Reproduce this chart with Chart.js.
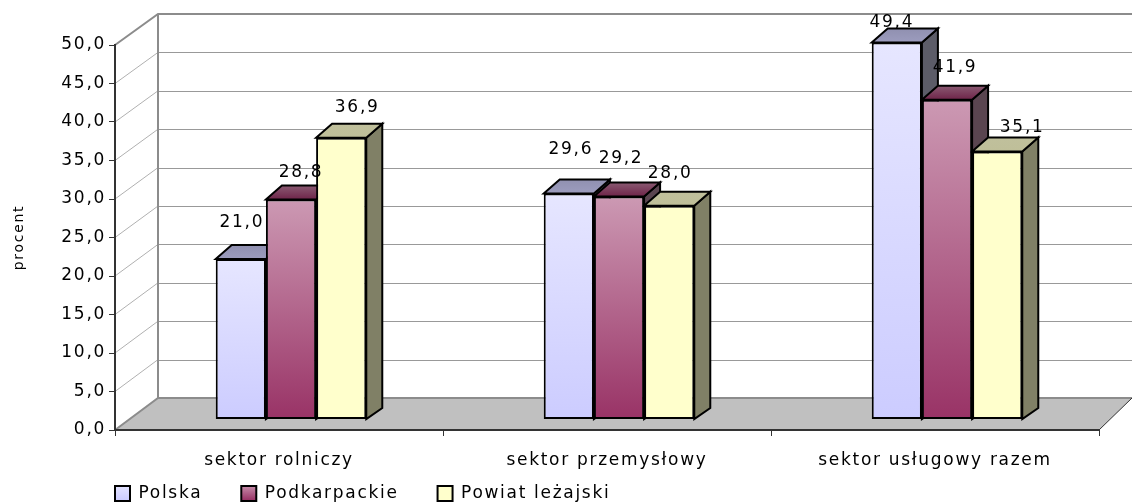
<!DOCTYPE html>
<html><head><meta charset="utf-8">
<style>html,body{margin:0;padding:0;background:#fff}canvas{display:block}</style>
<script src="https://cdn.jsdelivr.net/npm/chart.js@4"></script>
</head><body><canvas id="c" width="1132" height="503"></canvas>
<script>
const categories = ["sektor rolniczy", "sektor przemysłowy", "sektor usługowy razem"];
const seriesNames = ["Polska", "Podkarpackie", "Powiat leżajski"];
const polska = [21.0, 29.6, 49.4];
const podkarpackie = [28.8, 29.2, 41.9];
const powiat = [36.9, 28.0, 35.1];
const yTicksMin = 0, yTicksMax = 50, yStep = 5;

const FONT = '"DejaVu Sans"';
const FSIZE = 17;
const SPACING = '1.7px';
const AREA = {left:115, right:1099, top:45, bottom:430};
const WALL = {dx:43, dy:-32, right:1132};
const BAR_DX = 12, DEPTH = {dx:16, dyBase:-11, dyTop:-14};
// label nudges [dx, dy] from the top centre of each bar front, per series and category
const NUDGE = [[[1,-36],[2,-44],[-5,-20]],[[10,-27],[2,-38],[8,-32]],[[16,-30],[1,-32],[25,-24]]];
const STYLE = [
 {top:'#e6e6ff',bottom:'#ccccff',cap:['#9c9cbe','#9090b0'],side:'#5c5c68'},
 {top:'#cc99b3',bottom:'#993366',cap:['#6e2449','#8a5a72'],side:'#5a4550'},
 {top:'#ffffcc',bottom:'#ffffcc',cap:['#bfbf99','#c0c09c'],side:'#808066'}
];
const comma = v => Number(v).toFixed(1).replace('.',',');
function grad(ctx,y0,y1,s){const g=ctx.createLinearGradient(0,y0,0,y1);g.addColorStop(0,s.top);g.addColorStop(1,s.bottom);return g;}
function barFill(i){return c=>{
  const chart=c.chart,ys=chart.scales.y1; if(!ys||c.dataIndex===undefined) return STYLE[i].bottom;
  const v=c.raw; return grad(chart.ctx,ys.getPixelForValue(v),ys.getPixelForValue(0),STYLE[i]);
};}

const spacing={id:'spacing',beforeUpdate(ch){ch.ctx.letterSpacing=SPACING;},beforeDraw(ch){ch.ctx.letterSpacing=SPACING;}};

const room={id:'room',
beforeDraw(ch){
  const c=ch.ctx,ys=ch.scales.y,{left,right,bottom,top}=ch.chartArea;
  const bx=left+WALL.dx,by=bottom+WALL.dy,tb=top+WALL.dy+1;
  c.save();
  c.fillStyle='#c0c0c0';c.beginPath();c.moveTo(left,bottom);c.lineTo(bx,by);c.lineTo(WALL.right,by);c.lineTo(right,bottom);c.closePath();c.fill();
  ys.ticks.forEach(t=>{
    if(t.value===yTicksMin||t.value===yTicksMax) return;
    const y=ys.getPixelForValue(t.value), yb=y+WALL.dy+(t.value/yTicksMax);
    c.strokeStyle='#b0b0b0';c.lineWidth=1;c.beginPath();c.moveTo(left,y);c.lineTo(bx,yb);c.stroke();
    c.strokeStyle='#999';c.beginPath();c.moveTo(bx,Math.round(yb)+.5);c.lineTo(WALL.right,Math.round(yb)+.5);c.stroke();
  });
  c.strokeStyle='#8c8c8c';c.lineWidth=2;
  c.beginPath();c.moveTo(left,bottom);c.lineTo(bx,by);c.lineTo(WALL.right,by);c.stroke();
  c.beginPath();c.moveTo(left,top);c.lineTo(bx,tb);c.lineTo(WALL.right,tb);c.stroke();
  c.beginPath();c.moveTo(bx,tb);c.lineTo(bx,by);c.stroke();
  c.lineWidth=1;c.strokeStyle='#333';c.beginPath();c.moveTo(right,bottom);c.lineTo(WALL.right,by);c.stroke();
  c.restore();
},
beforeDatasetsDraw(ch){
  const c=ch.ctx;
  c.save();c.translate(BAR_DX,0);
  c.lineWidth=2;c.strokeStyle='#000';c.lineJoin='miter';
  STYLE.forEach((s,i)=>ch.getDatasetMeta(i).data.forEach(b=>{
    const l=b.x-b.width/2,r=b.x+b.width/2,t=b.y,bt=b.base;
    c.fillStyle=s.side;c.beginPath();c.moveTo(r,t);c.lineTo(r+DEPTH.dx,t+DEPTH.dyTop);c.lineTo(r+DEPTH.dx,bt+DEPTH.dyBase);c.lineTo(r,bt);c.closePath();c.fill();c.stroke();
    const g=c.createLinearGradient(0,t,0,t+DEPTH.dyTop);g.addColorStop(0,s.cap[0]);g.addColorStop(1,s.cap[1]);
    c.fillStyle=g;c.beginPath();c.moveTo(l,t);c.lineTo(l+DEPTH.dx,t+DEPTH.dyTop);c.lineTo(r+DEPTH.dx,t+DEPTH.dyTop);c.lineTo(r,t);c.closePath();c.fill();c.stroke();
  }));
  c.restore();
},
beforeDatasetDraw(ch){ch.ctx.save();ch.ctx.translate(BAR_DX,0);},
afterDatasetDraw(ch){ch.ctx.restore();},
afterDatasetsDraw(ch){
  const c=ch.ctx;c.save();c.font=FSIZE+'px '+FONT;c.fillStyle='#000';c.textAlign='center';c.textBaseline='middle';
  ch.data.datasets.forEach((d,i)=>ch.getDatasetMeta(i).data.forEach((b,j)=>{
    const n=NUDGE[i][j];c.fillText(comma(d.data[j]),b.x+BAR_DX+n[0],b.y+n[1]);
  }));
  c.restore();
},
afterLayout(ch){const lg=ch.legend,pad=lg.options.labels.padding;lg.left=AREA.left-pad;lg.right=1132;lg.top=485-pad;lg.bottom=503;}
};

new Chart(document.getElementById('c'),{
  type:'bar',
  data:{labels:categories,datasets:[polska,podkarpackie,powiat].map((d,i)=>({
    label:seriesNames[i],data:d,yAxisID:'y1',clip:false,
    backgroundColor:barFill(i),borderColor:'#000',borderWidth:2,borderSkipped:false,
    barPercentage:1,categoryPercentage:0.459
  }))},
  options:{responsive:false,animation:false,devicePixelRatio:1,
    layout:{padding:{top:AREA.top,right:1132-AREA.right,left:0,bottom:0}},
    plugins:{tooltip:{enabled:false},
      legend:{position:'bottom',align:'start',maxHeight:1,
        labels:{padding:39,boxWidth:15,boxHeight:15,color:'#000',font:{family:FONT,size:FSIZE},
          generateLabels(ch){return seriesNames.map((n,i)=>({text:n,datasetIndex:i,fillStyle:grad(ch.ctx,484,500,STYLE[i]),strokeStyle:'#000',lineWidth:2,fontColor:'#000'}));}
        }}},
    scales:{
      x:{afterFit(s){s.height=503-AREA.bottom-1;},
        grid:{drawOnChartArea:false,drawTicks:true,tickLength:6,tickColor:'#333',tickWidth:1,offset:true},
        border:{color:'#333',width:2},
        ticks:{color:'#000',padding:14,maxRotation:0,font:{family:FONT,size:FSIZE}}},
      y:{min:yTicksMin,max:yTicksMax,position:'left',
        afterFit(s){s.width=AREA.left;},
        title:{display:true,text:'procent',color:'#000',padding:{top:11,bottom:0},font:{family:FONT,size:14}},
        grid:{drawOnChartArea:false,drawTicks:true,tickLength:6,tickColor:'#333',tickWidth:1},
        border:{color:'#333',width:2},
        ticks:{stepSize:yStep,color:'#000',padding:3,font:{family:FONT,size:FSIZE},callback:v=>comma(v)}},
      y1:{display:false,position:'left',min:-11/7.62,max:(419-45)/7.62}
    }
  },
  plugins:[spacing,room]
});
</script></body></html>
